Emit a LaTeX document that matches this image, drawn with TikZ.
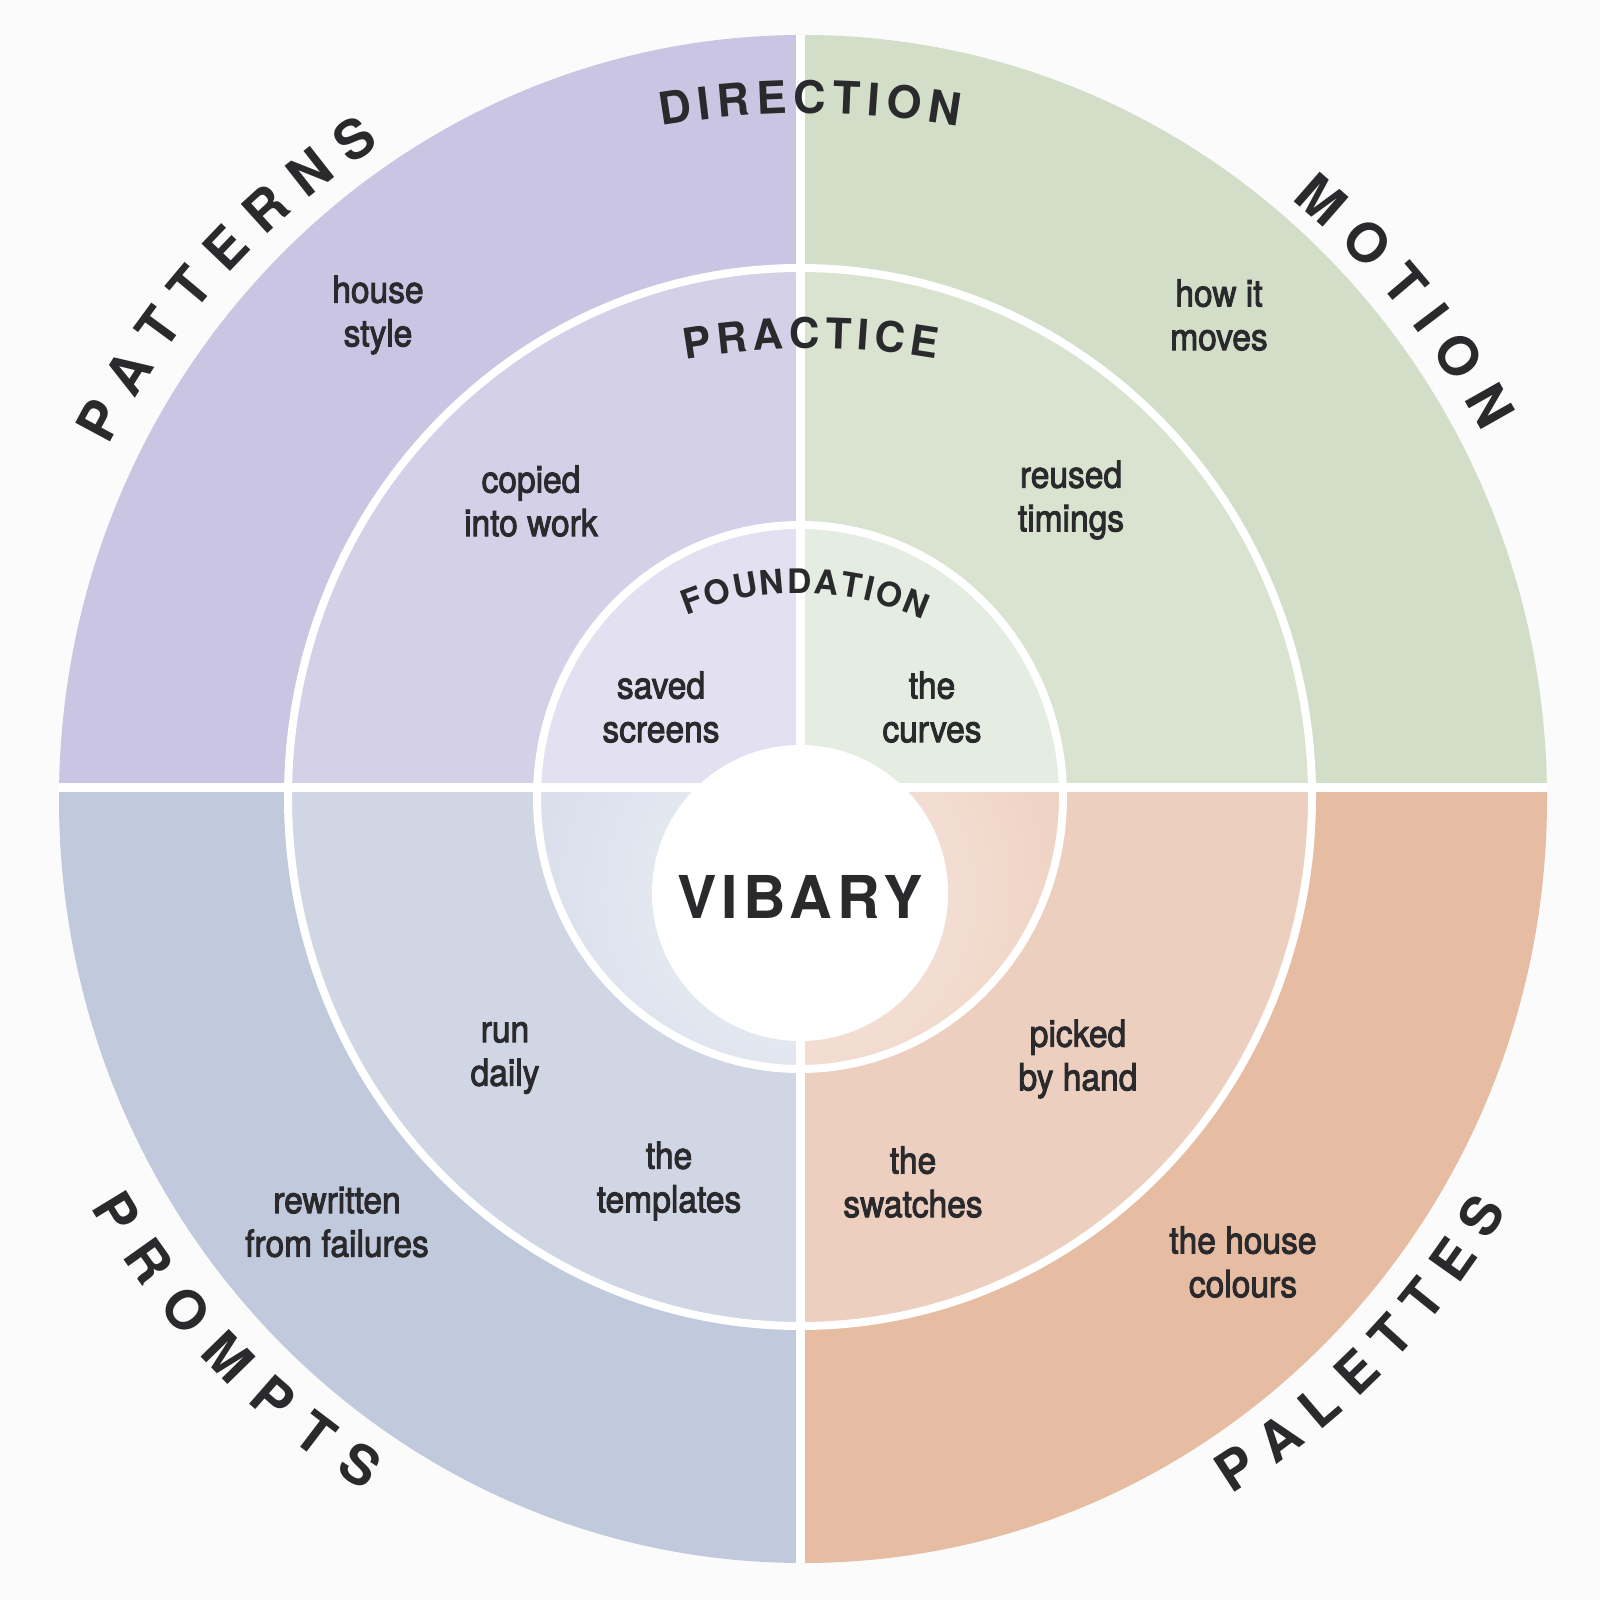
\documentclass[tikz,border=0pt]{standalone}
\usepackage{fontspec}
\setmainfont{TeX Gyre Heros}
\newfontfamily\cellfont{TeX Gyre Heros}[FakeStretch=0.9,FakeBold=2.5]
\usetikzlibrary{calc}
\pgfdeclarelayer{ringlayer}
\pgfsetlayers{ringlayer,main}
\definecolor{bg}{HTML}{FBFBFB}
\definecolor{ink}{HTML}{2A2A2D}
\definecolor{patA}{HTML}{C9C5E3}
\definecolor{patB}{HTML}{D3D0E8}
\definecolor{patC}{HTML}{E3E1F1}
\definecolor{motA}{HTML}{D2DEC8}
\definecolor{motB}{HTML}{D9E3D0}
\definecolor{motC}{HTML}{E5ECE1}
\definecolor{proA}{HTML}{C0CADC}
\definecolor{proB}{HTML}{D0D6E4}
\definecolor{proC}{HTML}{D8DDEA}
\definecolor{palA}{HTML}{E6BDA3}
\definecolor{palB}{HTML}{EDCFBF}
\definecolor{palC}{HTML}{EED0C0}
\tikzstyle{none}=[inner sep=0pt]
\tikzstyle{cell}=[inner sep=0pt,align=center,text=ink,font=\cellfont\fontsize{10.6}{12.4}\selectfont]
\tikzstyle{letter}=[inner sep=0pt,text=ink]
\tikzstyle{hub}=[circle,fill=white,inner sep=0pt,minimum size=2.96cm]
\tikzstyle{ringline}=[draw=white,line width=0.08cm]
\tikzstyle{axisgap}=[draw=white,line width=0.09cm]
\newsavebox\rwbox
\newdimen\rwtotal
\newdimen\rwpos
% name, centre, letters, size, tracking, centre angle, radius, 1 = tops out / -1 = tops in
\newcommand\ringword[8]{%
	\global\rwtotal=0pt
	\foreach \ch in {#3}{%
		\pgfinterruptpicture\global\setbox\rwbox\hbox{\fontsize{#4}{#4}\selectfont\bfseries\ch}\endpgfinterruptpicture
		\global\advance\rwtotal by \wd\rwbox
		\global\advance\rwtotal by #5\relax}%
	\global\advance\rwtotal by -#5\relax
	\global\rwpos=0pt
	\foreach \ch [count=\i] in {#3}{%
		\pgfinterruptpicture\global\setbox\rwbox\hbox{\fontsize{#4}{#4}\selectfont\bfseries\ch}\endpgfinterruptpicture
		\pgfmathsetmacro\rwang{#6-(#8)*(\the\rwpos+0.5*\the\wd\rwbox-0.5*\the\rwtotal)/(#7*28.45274)*57.29578}%
		\pgfmathsetmacro\rwrot{\rwang-(#8)*90}%
		\node[letter,font=\fontsize{#4}{#4}\selectfont\bfseries,rotate=\rwrot] (#1-\i) at ($(#2)+(\rwang:#7)$) {\ch};
		\global\advance\rwpos by \wd\rwbox
		\global\advance\rwpos by #5\relax}%
}
\begin{document}
\begin{tikzpicture}
	\useasboundingbox (-8,-8.03) rectangle (8,7.97);
	\begin{pgfonlayer}{ringlayer}
		\fill[bg] (-8,-8.03) rectangle (8,7.97);
		\foreach \sx/\sy/\q in {1/1/mot,-1/1/pat,-1/-1/pro,1/-1/pal}{
			\begin{scope}
				\clip (0,0.09) rectangle (8*\sx,8*\sy);
				\fill[fill=\q A] (0.03,-0.02) ellipse [x radius=7.44,y radius=7.64];
				\fill[fill=\q B] (0,0) ellipse [x radius=5.12,y radius=5.29];
				\fill[fill=\q C] (0,0) ellipse [x radius=2.63,y radius=2.72];
			\end{scope}
		}
		\foreach \sx/\q in {-1/pro,1/pal}{
			\begin{scope}
				\clip (0,0) ellipse [x radius=2.63,y radius=2.72];
				\clip (0,0.09) rectangle (3*\sx,-3);
				\foreach \r [count=\k] in {2.90,2.83,...,1.45}{
					\pgfmathsetmacro\t{100-1.4*\k}
					\fill[fill=\q C!\t!white] (0,-0.96) circle (\r);
				}
			\end{scope}
		}
		\draw[ringline] (0,0) ellipse [x radius=5.12,y radius=5.29];
		\draw[ringline] (0,0) ellipse [x radius=2.63,y radius=2.72];
		\draw[axisgap] (0,-7.66) -- (0,7.62);
		\draw[axisgap] (-7.41,0.09) -- (7.47,0.09);
	\end{pgfonlayer}
	\node[hub] (hub) at (0,-0.96) {};
	\node[letter,font=\fontsize{16.8}{16.8}\selectfont\bfseries\addfontfeature{LetterSpace=9}] (vibary) at (0,-1.00) {VIBARY};
	\ringword{pat}{0,0}{P,A,T,T,E,R,N,S}{15.4}{5.2pt}{137.9}{7.95}{1}
	\ringword{mot}{0,0}{M,O,T,I,O,N}{15.4}{5.3pt}{39.3}{7.93}{1}
	\ringword{pro}{0,0}{P,R,O,M,P,T,S}{15.4}{5.8pt}{224}{8.0}{-1}
	\ringword{pal}{0,0}{P,A,L,E,T,T,E,S}{15.4}{4.4pt}{315.7}{8.0}{-1}
	\ringword{dir}{0.10,-2.00}{D,I,R,E,C,T,I,O,N}{12.8}{2.0pt}{90}{9.0}{1}
	\ringword{pra}{0.11,-2.86}{P,R,A,C,T,I,C,E}{12}{1.7pt}{90}{7.5}{1}
	\ringword{fou}{0,-0.96}{F,O,U,N,D,A,T,I,O,N}{9.6}{0.85pt}{89}{3.12}{1}
	\node[cell] (house) at (-4.22,4.82) {house\\style};
	\node[cell] (moves) at (4.19,4.82) {how it\\moves};
	\node[cell] (copied) at (-2.69,2.96) {copied\\into work};
	\node[cell] (timings) at (2.71,2.97) {reused\\timings};
	\node[cell] (screens) at (-1.39,0.90) {saved\\screens};
	\node[cell] (curves) at (1.32,0.90) {the\\curves};
	\node[cell] (daily) at (-2.95,-2.61) {run\\daily};
	\node[cell] (picked) at (2.78,-2.62) {picked\\by hand};
	\node[cell] (templates) at (-1.31,-3.84) {the\\templates};
	\node[cell] (swatches) at (1.13,-3.85) {the\\swatches};
	\node[cell] (failures) at (-4.63,-4.25) {rewritten\\from failures};
	\node[cell] (colours) at (4.43,-4.65) {the house\\colours};
\end{tikzpicture}
\end{document}
